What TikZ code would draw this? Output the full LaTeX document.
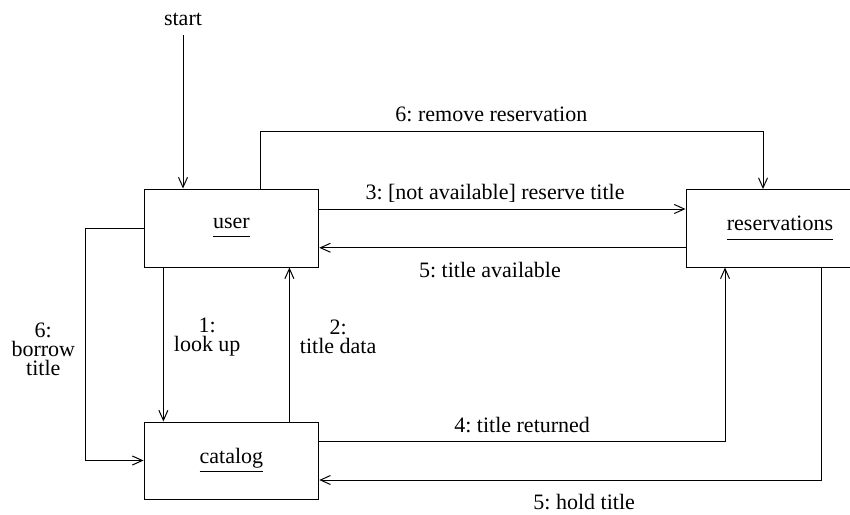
\documentclass[tikz,border=0pt]{standalone}
\usepackage{fontspec}
\setmainfont{Liberation Serif}
\usetikzlibrary{arrows.meta,positioning}

% object name, underlined with a little gap
\newcommand{\objname}[1]{\underline{\raisebox{0pt}[\height][2.6pt]{#1}}}

\begin{document}
\frenchspacing
\begin{tikzpicture}[x=0.5pt,y=-0.5pt,
  every node/.style={font=\fontsize{11}{9.5}\selectfont},
  obj/.style={draw, line width=0.5pt, inner sep=0pt},
  msg/.style={line width=0.5pt, -{Straight Barb[length=5pt,width=4.5pt]}},
  lbl/.style={inner sep=0pt, align=center}]
  \useasboundingbox (0,0) rectangle (850,514);
  \clip (0,0) rectangle (850,514);
  % Objects
  \node[obj, minimum width=87.35pt, minimum height=39pt] (user) at (231.4,228) {\objname{user}};
  \node[obj, minimum width=94pt, minimum height=38.75pt] (res) at (780,228.25) {\objname{reservations}};
  \node[obj, minimum width=87.35pt, minimum height=38.5pt] (catalog) at (231.4,460.5) {\objname{catalog}};
  \node[lbl] (startlbl) at (183,19.5) {start};
  % Messages
  \draw[msg] ([yshift=-4.5pt]startlbl.south) -- (startlbl.south |- user.north);
  \draw[msg] ([xshift=-34pt]user.south) -- ([xshift=-34pt]catalog.north)
    node[lbl, right=5pt, pos=0.45] (lookup) {1:\\look up};
  \draw[msg] ([xshift=29pt]catalog.north) -- ([xshift=29pt]user.south)
    node[lbl, right=5pt, pos=0.55] (titledata) {2:\\title data};
  \draw[msg] ([yshift=9.5pt]user.east) -- ([yshift=9.5pt]user.east -| res.west)
    node[lbl, above=3pt, pos=0.48] (reserve) {3: [not available] reserve title};
  \draw[msg] ([yshift=-9.75pt]res.west) -- ([yshift=-9.75pt]res.west -| user.east)
    node[lbl, below=7pt, pos=0.534] (available) {5: title available};
  \draw[msg] ([xshift=14.3pt]user.north) -- ++(0,-57.5) -| ([xshift=-8.5pt]res.north)
    node[lbl, above=4.5pt, pos=0.23] (remove) {6: remove reservation};
  \draw[msg] ([yshift=9.75pt]catalog.east) -| ([xshift=-27.5pt]res.south)
    node[lbl, above=4pt, pos=0.25] (returned) {4: title returned};
  \draw[msg] ([xshift=20.5pt]res.south) |- ([yshift=-9.75pt]catalog.east)
    node[lbl, below=7pt, pos=0.736] (hold) {5: hold title};
  \draw[msg] (user.west) -- ++(-58,0) |- (catalog.west)
    node[lbl, left=5pt, pos=0.26] (borrow) {6:\\borrow\\title};
\end{tikzpicture}
\end{document}
